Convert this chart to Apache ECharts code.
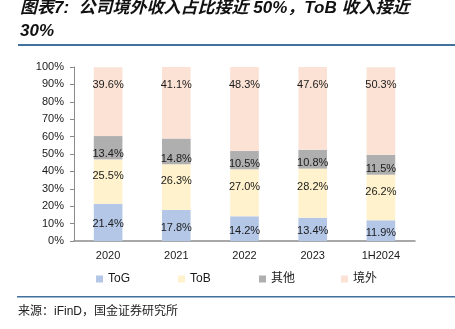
<!DOCTYPE html>
<html><head><meta charset="utf-8">
<script src="https://cdn.jsdelivr.net/npm/echarts@6/dist/echarts.min.js"></script>
<style>html,body{margin:0;padding:0;background:#fff}#c{width:455px;height:329px}</style>
</head><body><div id="c"></div>
<script>
const categories = ['2020', '2021', '2022', '2023', '1H2024'];
const toG = [21.4, 17.8, 14.2, 13.4, 11.9];
const toB = [25.5, 26.3, 27.0, 28.2, 26.2];
const other = [13.4, 14.8, 10.5, 10.8, 11.5];
const overseas = [39.6, 41.1, 48.3, 47.6, 50.3];
const seriesNames = ['ToG', 'ToB', '其他', '境外'];
const yTicks = [0, 10, 20, 30, 40, 50, 60, 70, 80, 90, 100];

const fontLatin = 'Liberation Sans, Arial, sans-serif';
const fontCJK = 'Liberation Sans, "Noto Sans CJK SC", sans-serif';
const colors = ['#B4C7E7', '#FFF2CC', '#AFAFAF', '#FBE2D5'];
const legendLefts = [96, 178, 259, 341];
const lbl = (pos, extra) => Object.assign({
  show: true, position: pos, color: '#1a1a1a', fontSize: 11, fontFamily: fontLatin,
  formatter: p => p.value.toFixed(1) + '%'
}, extra || {});

const chart = echarts.init(document.getElementById('c'), null, {renderer: 'canvas'});
chart.setOption({
  animation: false,
  color: colors,
  graphic: [
    {type: 'text', left: 20, top: -3, style: {
      text: '图表7:  公司境外收入占比接近 50%，ToB 收入接近\n30%',
      font: 'italic bold 17px "Liberation Sans", "Noto Sans CJK SC", sans-serif',
      fill: '#111', lineHeight: 23}},
    {type: 'rect', shape: {x: 18, y: 44, width: 437, height: 2}, style: {fill: '#41719C'}},
    {type: 'rect', shape: {x: 17, y: 296, width: 438, height: 1.5}, style: {fill: '#41719C'}},
    {type: 'text', left: 18, top: 306, style: {
      text: '来源：iFinD，国金证券研究所',
      font: '12px "Liberation Sans", "Noto Sans CJK SC", sans-serif', fill: '#222'}}
  ],
  grid: {left: 74, right: 40, top: 67, bottom: 88, containLabel: false},
  legend: seriesNames.map((n, i) => ({
    data: [n], top: 273, left: legendLefts[i], itemWidth: 7, itemHeight: 7, itemGap: 5,
    icon: 'rect', padding: 0,
    textStyle: {fontSize: 12, fontFamily: fontCJK, color: '#1a1a1a'}
  })),
  xAxis: {
    type: 'category', data: categories,
    axisLine: {lineStyle: {color: '#8c8c8c', width: 1.5}},
    axisTick: {show: false},
    axisLabel: {color: '#1a1a1a', fontSize: 11, fontFamily: fontLatin, margin: 9}
  },
  yAxis: {
    type: 'value', min: yTicks[0], max: yTicks[yTicks.length - 1], interval: 10,
    splitLine: {show: false},
    axisLine: {show: true, lineStyle: {color: '#8c8c8c'}},
    axisTick: {show: true, inside: false, length: 4, lineStyle: {color: '#8c8c8c'}},
    axisLabel: {color: '#1a1a1a', fontSize: 11, fontFamily: fontLatin, margin: 10,
      formatter: '{value}%'}
  },
  series: [
    {name: seriesNames[0], type: 'bar', stack: 's', data: toG, barWidth: '42%',
     label: lbl('inside', {offset: [0, 2]})},
    {name: seriesNames[1], type: 'bar', stack: 's', data: toB,
     label: lbl('inside', {offset: [0, -6]})},
    {name: seriesNames[2], type: 'bar', stack: 's', data: other,
     label: lbl('insideBottom', {distance: 0})},
    {name: seriesNames[3], type: 'bar', stack: 's', data: overseas,
     label: lbl('insideTop', {distance: 12})}
  ]
});
</script></body></html>
